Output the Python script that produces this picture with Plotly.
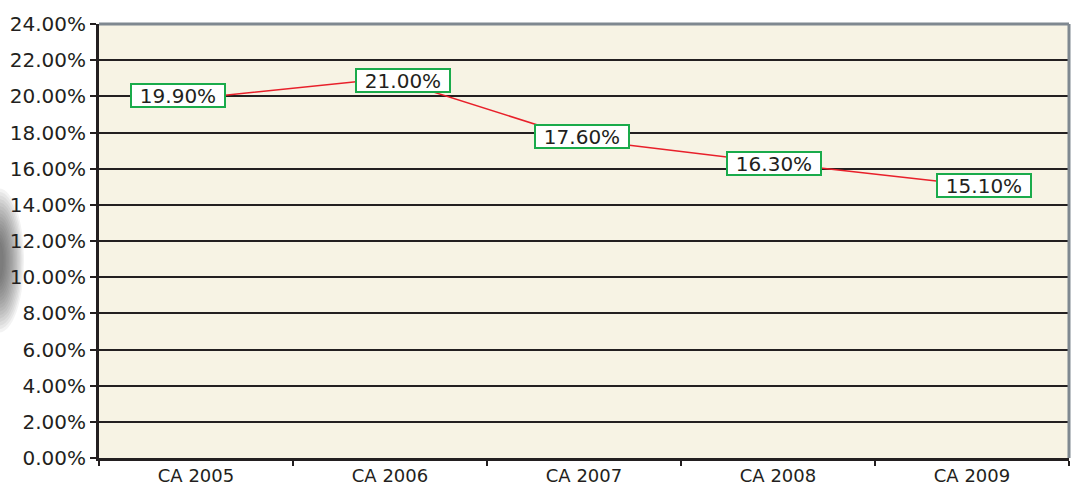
import plotly.graph_objects as go

categories = ["CA 2005", "CA 2006", "CA 2007", "CA 2008", "CA 2009"]
values = [0.199, 0.210, 0.176, 0.163, 0.151]
value_labels = ["19.90%", "21.00%", "17.60%", "16.30%", "15.10%"]

# label box pixel offsets (style only)
label_dx = [-18, 13, -2, -4, 12]
label_dy = [3, -2, 3, 0, -1]

FONT = "DejaVu Sans"
fig = go.Figure()
fig.add_trace(go.Scatter(
    x=categories, y=values, mode="lines",
    line=dict(color="#e8202a", width=1.5),
    hoverinfo="skip", showlegend=False,
))

for c, v, t, dx, dy in zip(categories, values, value_labels, label_dx, label_dy):
    fig.add_annotation(
        x=c, y=v, text=t, showarrow=False, xshift=dx, yshift=dy,
        font=dict(family=FONT, size=20, color="#231f20"),
        bgcolor="white", bordercolor="#1aab4b", borderwidth=2, borderpad=0,
        width=92, height=21,
    )

shapes = []
# top and right gray frame
shapes.append(dict(type="line", xref="paper", yref="paper", x0=0, x1=1, y0=1, y1=1,
                   line=dict(color="#7f8890", width=3), layer="above"))
shapes.append(dict(type="line", xref="paper", yref="paper", x0=1, x1=1, y0=0, y1=1,
                   line=dict(color="#7f8890", width=3), layer="above"))
# dark blurred blob at the left edge
n = 16
for i in range(n):
    f = 1 - i / n
    rx = 3 + 22 * f
    ry = 16 + 56 * f
    shapes.append(dict(type="circle", xref="paper", yref="paper",
                       xsizemode="pixel", ysizemode="pixel", xanchor=0, yanchor=0.455,
                       x0=-100 - rx, x1=-100 + rx, y0=-ry, y1=ry,
                       fillcolor="#303030", opacity=0.06, line=dict(width=0), layer="below"))

fig.update_layout(
    width=1075, height=482,
    margin=dict(l=99, r=6, t=24, b=24),
    paper_bgcolor="white", plot_bgcolor="#f7f3e4",
    font=dict(family=FONT, size=20, color="#231f20"),
    shapes=shapes,
)
fig.update_xaxes(
    type="category", range=[-0.5, 4.5], showgrid=False, automargin=False,
    showline=True, linecolor="#231f20", linewidth=2.5,
    ticks="outside", tickson="boundaries", ticklen=5, tickwidth=2, tickcolor="#231f20",
    tickfont=dict(family=FONT, size=18, color="#231f20"),
)
fig.update_yaxes(
    range=[0, 0.24], dtick=0.02, tickformat=".2%", automargin=False,
    showgrid=True, gridcolor="#231f20", gridwidth=2, zeroline=False,
    showline=True, linecolor="#231f20", linewidth=3,
    ticks="outside", ticklen=6, tickwidth=2, tickcolor="#231f20",
    tickfont=dict(family=FONT, size=20, color="#231f20"),
)

fig.write_html(
    "out.html",
    config={"displayModeBar": False},
    post_script="document.body.style.margin='0';document.body.style.overflow='hidden';",
)
